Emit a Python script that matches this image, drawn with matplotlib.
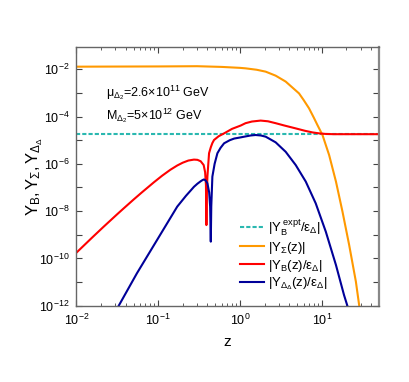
import numpy as np
import matplotlib
matplotlib.use("Agg")
import matplotlib.pyplot as plt
from matplotlib.ticker import LogLocator, NullFormatter, FixedLocator

plt.rcParams['font.family'] = ['Liberation Sans', 'DejaVu Sans']
plt.rcParams['mathtext.fontset'] = 'custom'
plt.rcParams['mathtext.rm'] = 'Liberation Sans'
plt.rcParams['mathtext.it'] = 'Liberation Sans'
plt.rcParams['mathtext.bf'] = 'Liberation Sans:bold'

# data (y given as log10)
z_sigma = [0.01, 0.03, 0.1, 0.3, 0.6, 1.0, 1.17, 1.6, 2.06, 2.73, 3.62, 4.4, 5.27, 6.0,
           6.98, 8.0, 8.85, 10.2, 12.3, 14.9, 17.9, 21.6, 26.1, 28.6]
ly_sigma = [-1.89, -1.885, -1.88, -1.87, -1.9, -1.94, -1.96, -2.02, -2.10, -2.27, -2.52,
            -2.78, -3.02, -3.3, -3.65, -4.05, -4.36, -4.78, -5.63, -6.75, -8.02, -9.43,
            -10.98, -11.97]

z_b = [0.01, 0.0158, 0.0214, 0.0316, 0.038, 0.0501, 0.0631, 0.0887, 0.112, 0.141, 0.171,
       0.2, 0.234, 0.274, 0.302, 0.331, 0.36, 0.375, 0.384, 0.389, 0.393, 0.40, 0.419,
       0.44, 0.46, 0.482, 0.55, 0.64, 0.8, 1.02, 1.17, 1.4, 1.79, 2.2, 2.73, 3.5, 4.8,
       6.2, 7.69, 9.5, 11.2, 14.0, 50.0]
ly_b = [-9.76, -9.10, -8.67, -8.13, -7.88, -7.51, -7.21, -6.78, -6.50, -6.25, -6.07,
        -5.95, -5.86, -5.82, -5.83, -5.89, -6.05, -6.35, -6.9, -8.59, -7.3, -6.54, -5.55,
        -5.3, -5.12, -4.99, -4.83, -4.71, -4.52, -4.38, -4.28, -4.21, -4.17, -4.2,
        -4.28, -4.38, -4.5, -4.6, -4.67, -4.715, -4.735, -4.745, -4.745]

z_dd = [0.033, 0.055, 0.097, 0.171, 0.219, 0.251, 0.274, 0.302, 0.33, 0.347, 0.363,
        0.38, 0.40, 0.42, 0.432, 0.44, 0.446, 0.46, 0.49, 0.53, 0.58, 0.64, 0.75, 0.85,
        1.02, 1.17, 1.35, 1.55, 1.8, 2.06, 2.73, 3.62, 4.8, 6.37, 8.43, 11.2, 14.9,
        18.7, 20.7]
ly_dd = [-12.0, -10.63, -9.22, -7.81, -7.35, -7.12, -6.97, -6.84, -6.74, -6.69, -6.66,
         -6.7, -6.82, -7.2, -7.8, -9.29, -7.8, -6.54, -6.0, -5.55, -5.32, -5.13, -5.0,
         -4.93, -4.88, -4.84, -4.8, -4.78, -4.8, -4.85, -5.09, -5.49, -6.05, -6.75,
         -7.67, -8.87, -10.28, -11.55, -12.04]

z_expt = [0.01, 50.0]
y_expt = [1.8e-5, 1.8e-5]

fig = plt.figure(figsize=(4.09, 3.82), dpi=100)
ax = fig.add_axes([0.1866, 0.1997, 0.74, 0.678])

ax.plot(z_expt, y_expt, color='#2ab8b0', lw=1.5, ls=(0, (2, 1)), label=r'$|Y_B^{\,\rm expt}/\varepsilon_\Delta|$')
ax.plot(z_sigma, 10**np.array(ly_sigma), color='#ff9900', lw=1.5, label=r'$|Y_\Sigma(z)|$')
ax.plot(z_b, 10**np.array(ly_b), color='#ff0000', lw=1.5, label=r'$|Y_B(z)/\varepsilon_\Delta|$')
ax.plot(z_dd, 10**np.array(ly_dd), color='#000099', lw=1.5, label=r'$|Y_{\Delta_\Delta}(z)/\varepsilon_\Delta|$')

ax.set_xscale('log')
ax.set_yscale('log')
ax.set_xlim(0.01, 50)
ax.set_ylim(1e-12, 0.09)

ax.yaxis.set_major_locator(FixedLocator([1e-12, 1e-10, 1e-8, 1e-6, 1e-4, 1e-2]))
ax.yaxis.set_minor_locator(FixedLocator([1e-11, 1e-9, 1e-7, 1e-5, 1e-3]))
ax.yaxis.set_minor_formatter(NullFormatter())
ax.xaxis.set_minor_locator(LogLocator(base=10, subs=np.arange(2, 10)))
ax.xaxis.set_minor_formatter(NullFormatter())

ax.tick_params(which='both', direction='in', top=True, right=True, colors='#444444',
               labelcolor='black', labelsize=9, pad=5)
ax.tick_params(which='major', length=4, width=0.8)
ax.tick_params(axis='x', which='minor', length=2, width=0.6)
ax.tick_params(axis='y', which='minor', length=4, width=0.8)
for s in ax.spines.values():
    s.set_color('#666666')
    s.set_linewidth(1.0)
ax.spines['right'].set_linewidth(1.6)
ax.spines['right'].set_color('#888888')

ax.set_xlabel('z', fontsize=11, labelpad=5)
ax.set_ylabel(r'$Y_B, Y_\Sigma, Y_{\Delta_\Delta}$', fontsize=12)
ax.yaxis.set_label_coords(-0.105, 0.5)

ax.text(0.098, 0.822, r'$\mu_{\Delta_2}$=2.6$\times$10$^{11}$ GeV', transform=ax.transAxes,
        fontsize=9, va='center')
ax.text(0.098, 0.735, r'M$_{\Delta_2}$=5$\times$10$^{12}$ GeV', transform=ax.transAxes,
        fontsize=9, va='center')

ax.legend(loc='upper left', bbox_to_anchor=(0.523, 0.362), frameon=False, fontsize=9.5,
          handlelength=1.84, handletextpad=0.3, labelspacing=0.15, borderaxespad=0)

fig.savefig('out.png', dpi=100)
